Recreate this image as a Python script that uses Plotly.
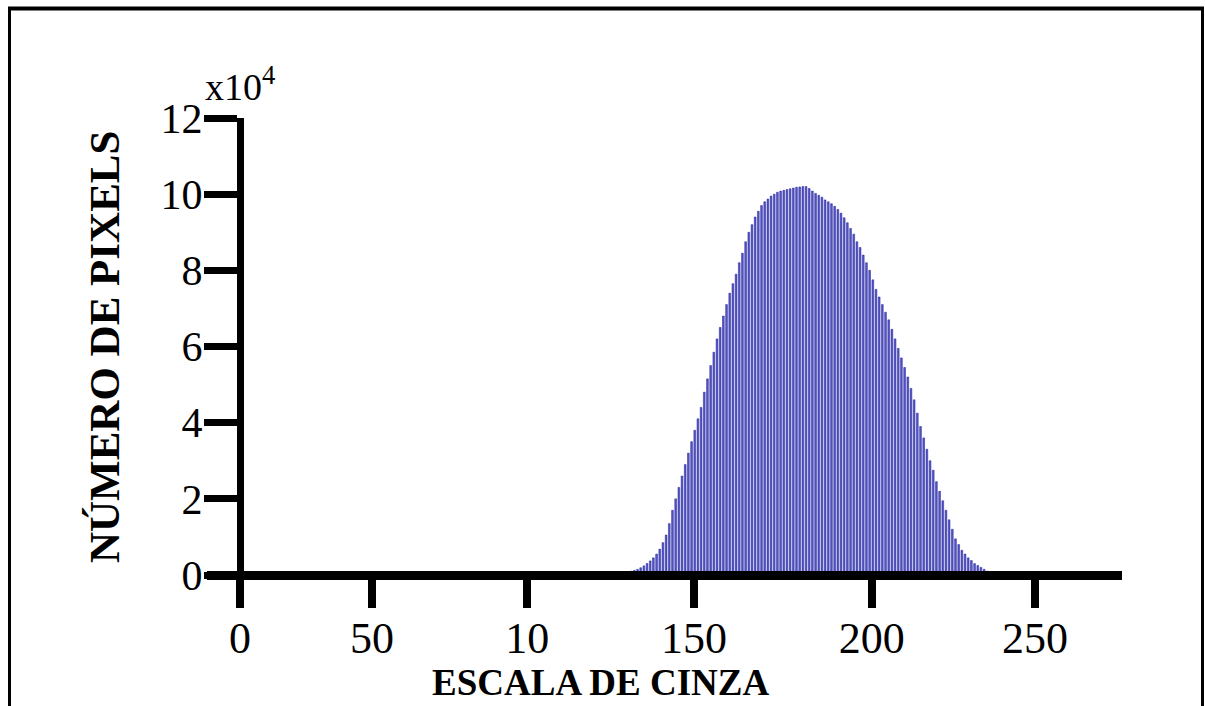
import plotly.graph_objects as go

# ---------------- data ----------------
gray_levels = list(range(119, 237))
pixel_count_x1e4 = [
    0.05, 0.05, 0.07, 0.08, 0.10, 0.12, 0.15, 0.19, 0.24, 0.30,   # 119-128
    0.37, 0.45, 0.55, 0.68, 0.85, 1.05, 1.35, 1.70, 2.00, 2.30,   # 129-138
    2.60, 2.90, 3.20, 3.50, 3.80, 4.10, 4.40, 4.80, 5.15, 5.50,   # 139-148
    5.85, 6.20, 6.50, 6.80, 7.10, 7.40, 7.65, 7.90, 8.20, 8.45,   # 149-158
    8.75, 9.00, 9.20, 9.40, 9.55, 9.70, 9.80, 9.87, 9.95, 10.00,  # 159-168
    10.05, 10.08, 10.10, 10.12, 10.14, 10.16, 10.18, 10.19, 10.20, 10.20,  # 169-178
    10.15, 10.08, 10.02, 9.97, 9.92, 9.85, 9.80, 9.75, 9.68, 9.60,  # 179-188
    9.50, 9.38, 9.25, 9.10, 8.95, 8.75, 8.60, 8.40, 8.20, 8.00,   # 189-198
    7.75, 7.50, 7.30, 7.10, 6.90, 6.70, 6.45, 6.20, 5.95, 5.70,   # 199-208
    5.45, 5.20, 4.90, 4.60, 4.25, 3.90, 3.60, 3.30, 3.00, 2.75,   # 209-218
    2.45, 2.20, 1.95, 1.70, 1.45, 1.20, 0.95, 0.80, 0.65, 0.55,   # 219-228
    0.45, 0.38, 0.30, 0.25, 0.20, 0.15, 0.10, 0.06,               # 229-236
]

# x tick marks as placed in the original (unevenly spaced) and their labels
x_tick_positions = [0, 41.5, 90.3, 142.8, 198.7, 250]
x_tick_labels = ["0", "50", "10", "150", "200", "250"]
y_tick_values = [0, 2, 4, 6, 8, 10, 12]
y_tick_labels = ["0", "2", "4", "6", "8", "10", "12"]

x_title = "ESCALA DE CINZA"
y_title = "NÚMERO DE PIXELS"
scale_note = "x10<sup>4</sup>"

# ---------------- layout geometry ----------------
W, H = 1205, 706
ML, MR, MT, MB = 207, 83, 118, 103
X_RANGE = [-10.38, 277.36]
Y_RANGE = [-0.735, 12.0]
plot_w = W - ML - MR
plot_h = H - MT - MB


def px_to_paper_x(px):
    return (px - ML) / plot_w


def px_to_paper_y(py):
    return (H - MB - py) / plot_h


serif = "Liberation Serif, Times New Roman, serif"

fig = go.Figure()
fig.add_trace(go.Bar(
    x=gray_levels,
    y=pixel_count_x1e4,
    marker=dict(color="#5858c8", line=dict(color="#1c1c98", width=0.5)),
    width=0.55,
    hoverinfo="x+y",
))

fig.update_layout(
    width=W, height=H,
    margin=dict(l=ML, r=MR, t=MT, b=MB, pad=0),
    paper_bgcolor="white",
    plot_bgcolor="white",
    showlegend=False,
    font=dict(family=serif, color="black"),
    xaxis=dict(
        range=X_RANGE,
        anchor="free",
        position=(0 - Y_RANGE[0]) / (Y_RANGE[1] - Y_RANGE[0]),
        showline=True, linecolor="black", linewidth=9,
        showgrid=False, zeroline=False,
        ticks="outside", ticklen=28, tickwidth=8, tickcolor="black",
        tickmode="array", tickvals=x_tick_positions, ticktext=x_tick_labels,
        tickfont=dict(family=serif, size=44, color="black"),
        ticklabelstandoff=-8,
    ),
    yaxis=dict(
        range=Y_RANGE,
        anchor="free",
        position=(0 - X_RANGE[0]) / (X_RANGE[1] - X_RANGE[0]),
        showline=True, linecolor="black", linewidth=7,
        showgrid=False, zeroline=False,
        ticks="outside", ticklen=33, tickwidth=7, tickcolor="black",
        tickmode="array", tickvals=y_tick_values, ticktext=y_tick_labels,
        tickfont=dict(family=serif, size=42, color="black"),
        ticklabelstandoff=-7,
    ),
)

# axis titles and the scale note
fig.add_annotation(
    x=px_to_paper_x(104), y=px_to_paper_y(347), xref="paper", yref="paper",
    text="<b>" + y_title + "</b>", textangle=-90, showarrow=False,
    font=dict(family=serif, size=43, color="black"),
    xanchor="center", yanchor="middle",
)
fig.add_annotation(
    x=px_to_paper_x(600), y=px_to_paper_y(682), xref="paper", yref="paper",
    text="<b>" + x_title + "</b>", showarrow=False,
    font=dict(family=serif, size=37, color="black"),
    xanchor="center", yanchor="middle",
)
fig.add_annotation(
    x=px_to_paper_x(203), y=px_to_paper_y(84), xref="paper", yref="paper",
    text=scale_note, showarrow=False,
    font=dict(family=serif, size=38, color="black"),
    xanchor="left", yanchor="middle",
)

# outer frame (left, top, right edges)
frame = dict(type="line", xref="paper", yref="paper", line=dict(color="black"))
fig.add_shape(**frame, x0=px_to_paper_x(9.5), x1=px_to_paper_x(9.5),
              y0=px_to_paper_y(7), y1=px_to_paper_y(712), line_width=3)
fig.add_shape(**frame, x0=px_to_paper_x(8), x1=px_to_paper_x(1204),
              y0=px_to_paper_y(8.5), y1=px_to_paper_y(8.5), line_width=4)
fig.add_shape(**frame, x0=px_to_paper_x(1202.5), x1=px_to_paper_x(1202.5),
              y0=px_to_paper_y(7), y1=px_to_paper_y(712), line_width=3)

# the page body keeps its default 8px margin otherwise; drop it so the
# figure fills the 1205x706 window exactly
fig.write_html(
    "out.html",
    config={"displayModeBar": False},
    post_script="document.body.style.margin='0';",
)
